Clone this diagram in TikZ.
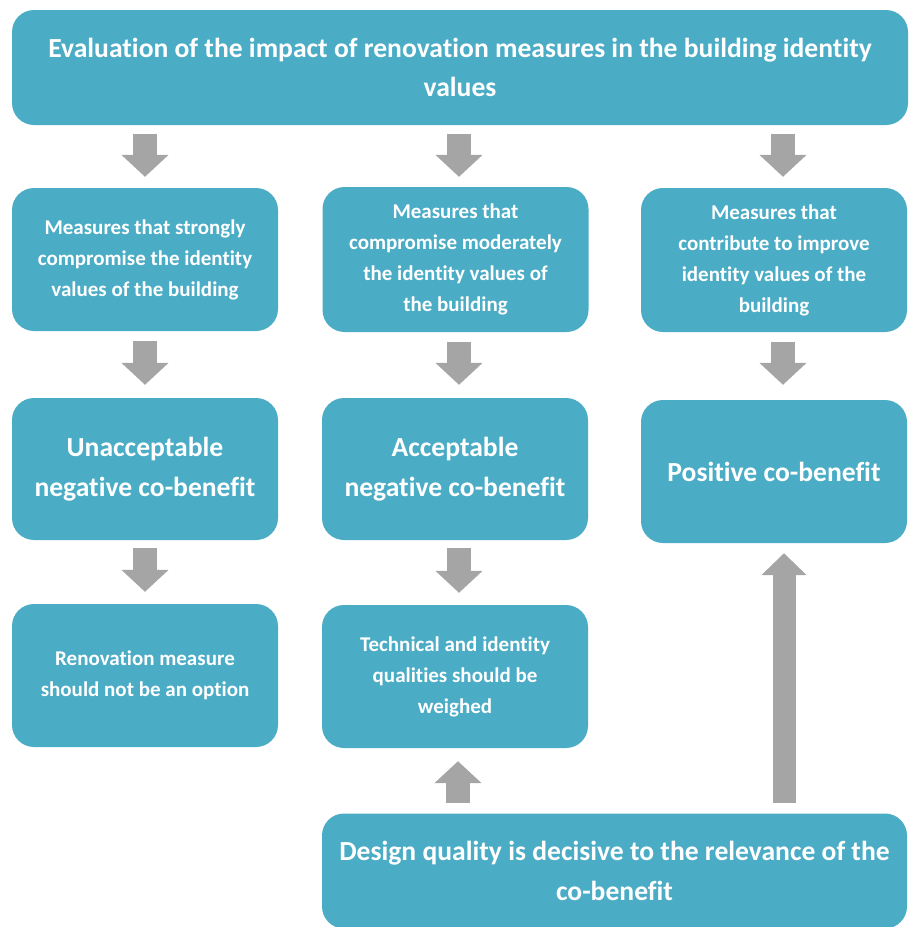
\documentclass[tikz,border=0pt]{standalone}
\usepackage{fontspec}
\setmainfont{Carlito}[Ligatures=NoCommon]
\usetikzlibrary{arrows.meta}

\definecolor{boxteal}{HTML}{4BACC6}
\definecolor{arrowgray}{HTML}{A5A5A5}

\tikzset{
  box/.style={fill=boxteal, rounded corners=22pt, text=white, align=center,
    inner sep=0pt, minimum width=266pt, minimum height=143pt},
  smalltext/.style={font=\fontsize{21}{31}\selectfont\bfseries},
  bigtext/.style={font=\fontsize{27.6}{39.5}\selectfont\bfseries},
  blockarrow/.style={draw=arrowgray, line width=24pt,
    -{Triangle[width=46pt, length=22pt]}},
}

\begin{document}
\begin{tikzpicture}[x=1pt, y=-1pt]
\useasboundingbox (0,0) rectangle (909,927);

% boxes
\node[box, bigtext, minimum width=896pt, minimum height=115pt] (top) at (460,67.5)
  {Evaluation of the impact of renovation measures in the building identity\\values};

\node[box, smalltext] (m1) at (145,259.5)
  {Measures that strongly\\compromise the identity\\values of the building};
\node[box, smalltext, minimum height=145pt] (m2) at (455.5,259.5)
  {Measures that\\compromise moderately\\the identity values of\\the building};
\node[box, smalltext, minimum height=144pt] (m3) at (774,260)
  {Measures that\\contribute to improve\\identity values of the\\building};

\node[box, bigtext, minimum height=142pt] (r1) at (145,469)
  {Unacceptable\\negative co-benefit};
\node[box, bigtext, minimum height=142pt] (r2) at (455,469)
  {Acceptable\\negative co-benefit};
\node[box, bigtext] (r3) at (774,471.5)
  {Positive co-benefit};

\node[box, smalltext] (s1) at (145,675.5)
  {Renovation measure\\should not be an option};
\node[box, smalltext] (s2) at (455,676.5)
  {Technical and identity\\qualities should be\\weighed};

\node[box, bigtext, minimum width=585pt, minimum height=115pt] (bot) at (614.5,871)
  {Design quality is decisive to the relevance of the\\co-benefit};

% arrow columns
\coordinate (ca) at (145,0);
\coordinate (cb) at (459,0);
\coordinate (cc) at (783,0);

% downward flow
\draw[blockarrow, shorten <=9pt, shorten >=11pt] (top.south -| ca) -- (m1.north -| ca);
\draw[blockarrow, shorten <=9pt, shorten >=10pt] (top.south -| cb) -- (m2.north -| cb);
\draw[blockarrow, shorten <=9pt, shorten >=11pt] (top.south -| cc) -- (m3.north -| cc);

\draw[blockarrow, shorten <=10pt, shorten >=13pt] (m1.south -| ca) -- (r1.north -| ca);
\draw[blockarrow, shorten <=10pt, shorten >=13pt] (m2.south -| cb) -- (r2.north -| cb);
\draw[blockarrow, shorten <=10pt, shorten >=15pt] (m3.south -| cc) -- (r3.north -| cc);

\draw[blockarrow, shorten <=8pt, shorten >=12pt] (r1.south -| ca) -- (s1.north -| ca);
\draw[blockarrow, shorten <=8pt, shorten >=12pt] (r2.south -| cb) -- (s2.north -| cb);

% upward flow from design quality
\coordinate (cd) at (458,0);
\coordinate (ce) at (784,0);
\draw[blockarrow, shorten <=10pt, shorten >=13pt] (bot.north -| cd) -- (s2.south -| cd);
\draw[blockarrow, line width=23pt, -{Triangle[width=44pt, length=22pt]},
  shorten <=10pt, shorten >=10pt] (bot.north -| ce) -- (r3.south -| ce);
\end{tikzpicture}
\end{document}
